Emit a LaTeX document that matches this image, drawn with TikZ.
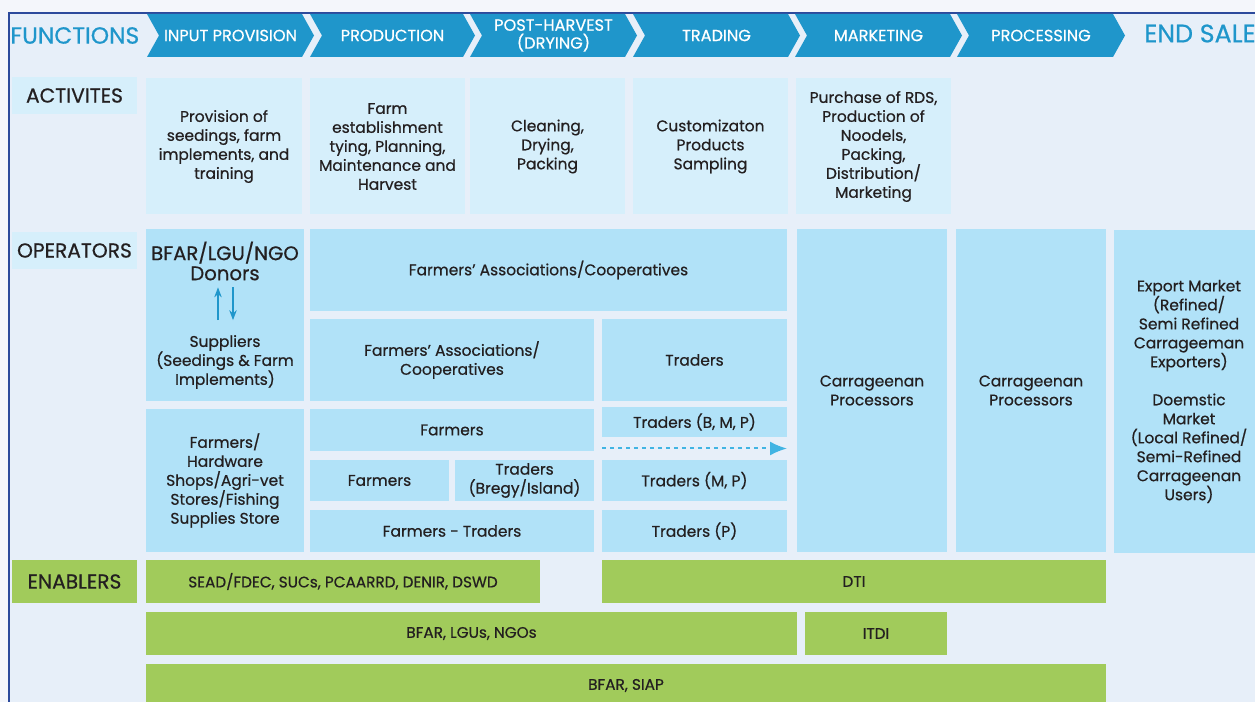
\documentclass[tikz,border=0pt]{standalone}
\usepackage{fontspec}
\setmainfont{Poppins}[FakeBold=0.6]
\usepackage{xcolor}
\usetikzlibrary{positioning,calc,arrows.meta}
\definecolor{headblue}{HTML}{1F96CB}
\definecolor{frameblue}{HTML}{2C4A9C}
\definecolor{paper}{HTML}{F4F6FB}
\definecolor{panel}{HTML}{E7EFF9}
\definecolor{actfill}{HTML}{D6EFFB}
\definecolor{opfill}{HTML}{B1E2F8}
\definecolor{enfill}{HTML}{A1CB5B}
\definecolor{dashblue}{HTML}{41B4E3}
\definecolor{ink}{HTML}{231F20}
\tikzstyle{arrow} = [headblue, line width=1.3*0.02cm, -{Stealth[length=0.2cm, width=0.15cm]}]
\tikzstyle{dasharrow} = [dashblue, line width=2*0.02cm, dash pattern=on 0.08cm off 0.08cm, -{Latex[length=0.34cm, width=0.28cm]}]
\tikzset{
  cell/.style={rectangle, inner sep=0pt, outer sep=0pt, align=center, text=ink, font=\fontsize{8.8}{10.8}\selectfont},
  sz/.style 2 args={minimum width=#1*0.02cm, minimum height=#2*0.02cm},
  actbox/.style={cell, fill=actfill},
  opbox/.style={cell, fill=opfill},
  enbox/.style={cell, fill=enfill, font=\fontsize{8.7}{10}\selectfont},
  rowlabel/.style={cell, font=\fontsize{11.5}{13}\selectfont},
  chevtext/.style={text=white, align=center, inner sep=0pt, font=\fontsize{9.2}{10.2}\selectfont},
  titletext/.style={text=headblue, inner sep=0pt, anchor=west, font=\fontsize{13.3}{15}\selectfont}
}
\begin{document}
\begin{tikzpicture}[x=0.02cm, y=-0.02cm]
    \useasboundingbox (0,0) rectangle (1255,702);
    \fill[paper] (0,0) rectangle (1255,702);
    \fill[panel] (9,12) rectangle (1255,702);
    \draw[frameblue, line width=2.5*0.02cm] (9,702) -- (9,13) -- (1255,13);

    % header chevrons
    \node[titletext] (functions) at (10,35.5) {FUNCTIONS};
    \foreach \l/\r/\lbl/\nm in {147/302/{INPUT PROVISION}/inp, 310/463/PRODUCTION/prod, 470/625/{POST-HARVEST\\(DRYING)}/post, 633/788/TRADING/trad, 795/950/MARKETING/mark, 957/1113/PROCESSING/proc} {
        \fill[headblue] (\l,14) -- (\r,14) -- (\r+12,35.5) -- (\r,57) -- (\l,57) -- (\l+12,35.5) -- cycle;
        \node[chevtext] (fn\nm) at ({(\l+\r)/2+6},35.5) {\lbl};
    }
    \node[titletext, font=\fontsize{14.4}{16}\selectfont] (endsale) at (1144,33.5) {END SALE};

    % activities
    \node[rowlabel, fill=actfill, sz={125}{37}] (actlabel) at (74.5,95.5) {ACTIVITES};
    \node[actbox, sz={156}{136}] (act1) at (224,146.5) {Provision of\\seedings, farm\\implements, and\\training};
    \node[actbox, sz={155}{136}] (act2) at (387.5,146.5) {Farm\\establishment\\tying, Planning,\\Maintenance and\\Harvest};
    \node[actbox, sz={155}{136}] (act3) at (547.5,146.5) {Cleaning,\\Drying,\\Packing};
    \node[actbox, sz={155}{136}] (act4) at (710.5,146.5) {Customizaton\\Products\\Sampling};
    \node[actbox, sz={155}{136}] (act5) at (873.5,146.5) {Purchase of RDS,\\Production of\\Noodels,\\Packing,\\Distribution/\\Marketing};

    % operators
    \node[rowlabel, fill=actfill, sz={125}{37}] (oplabel) at (74.5,250.5) {OPERATORS};
    \node[opbox, sz={158}{172}] (bfarbox) at (225,315) {};
    \node[cell, font=\fontsize{11.2}{11.4}\selectfont] (donors) at (225,261) {BFAR/LGU/NGO\\Donors};
    \node[cell] (suppliers) at (225,362) {Suppliers\\(Seedings \& Farm\\Implements)};
    \draw[arrow, shorten <=0.3cm, shorten >=0.14cm] ([xshift=-0.14cm]suppliers.north) -- ([xshift=-0.14cm]donors.south);
    \draw[arrow, shorten <=0.14cm, shorten >=0.3cm] ([xshift=0.16cm]donors.south) -- ([xshift=0.16cm]suppliers.north);
    \node[opbox, sz={158}{143}] (hardware) at (225,480.5) {Farmers/\\Hardware\\Shops/Agri-vet\\Stores/Fishing\\Supplies Store};
    \node[opbox, sz={477}{82}] (fa1) at (548.5,270) {Farmers’ Associations/Cooperatives};
    \node[opbox, sz={284}{82}] (fa2) at (452,360) {Farmers’ Associations/\\Cooperatives};
    \node[opbox, sz={185}{82}] (traders) at (694.5,360) {Traders};
    \node[opbox, sz={284}{42}] (farmers1) at (452,430) {Farmers};
    \node[opbox, sz={185}{30}] (tradersbmp) at (694.5,422) {Traders (B, M, P)};
    \node[opbox, sz={139}{41}] (farmers2) at (379.5,480.5) {Farmers};
    \node[opbox, sz={139}{41}] (tradersbi) at (524.5,480.5) {Traders\\(Bregy/Island)};
    \node[opbox, sz={185}{41}] (tradersmp) at (694.5,480.5) {Traders (M, P)};
    \node[opbox, sz={284}{42}] (farmtrad) at (452,531) {Farmers - Traders};
    \node[opbox, sz={185}{42}] (tradersp) at (694.5,531) {Traders (P)};
    \draw[dasharrow] ($(tradersbmp.south west)!0.5!(tradersmp.north west)$) -- ($(tradersbmp.south east)!0.5!(tradersmp.north east)$);
    \node[opbox, sz={150}{323}] (proc1) at (872,390.5) {Carrageenan\\Processors};
    \node[opbox, sz={150}{323}] (proc2) at (1031,390.5) {Carrageenan\\Processors};
    \node[opbox, sz={150}{323}] (market) at (1189,391.5) {Export Market\\(Refined/\\Semi Refined\\Carrageeman\\Exporters)\\[10.8pt]Doemstic\\Market\\(Local Refined/\\Semi-Refined\\Carrageenan\\Users)};

    % enablers
    \node[rowlabel, fill=enfill, sz={125}{43}] (enlabel) at (74.5,581.5) {ENABLERS};
    \node[enbox, sz={394}{43}] (sead) at (343,581.5) {SEAD/FDEC, SUCs, PCAARRD, DENIR, DSWD};
    \node[enbox, sz={504}{43}] (dti) at (854,581.5) {DTI};
    \node[enbox, sz={651}{43}] (bfarlgu) at (471.5,633.5) {BFAR, LGUs, NGOs};
    \node[enbox, sz={142}{43}] (itdi) at (876,633.5) {ITDI};
    \node[enbox, sz={960}{43}] (bfarsiap) at (626,685.5) {BFAR, SIAP};
\end{tikzpicture}
\end{document}
